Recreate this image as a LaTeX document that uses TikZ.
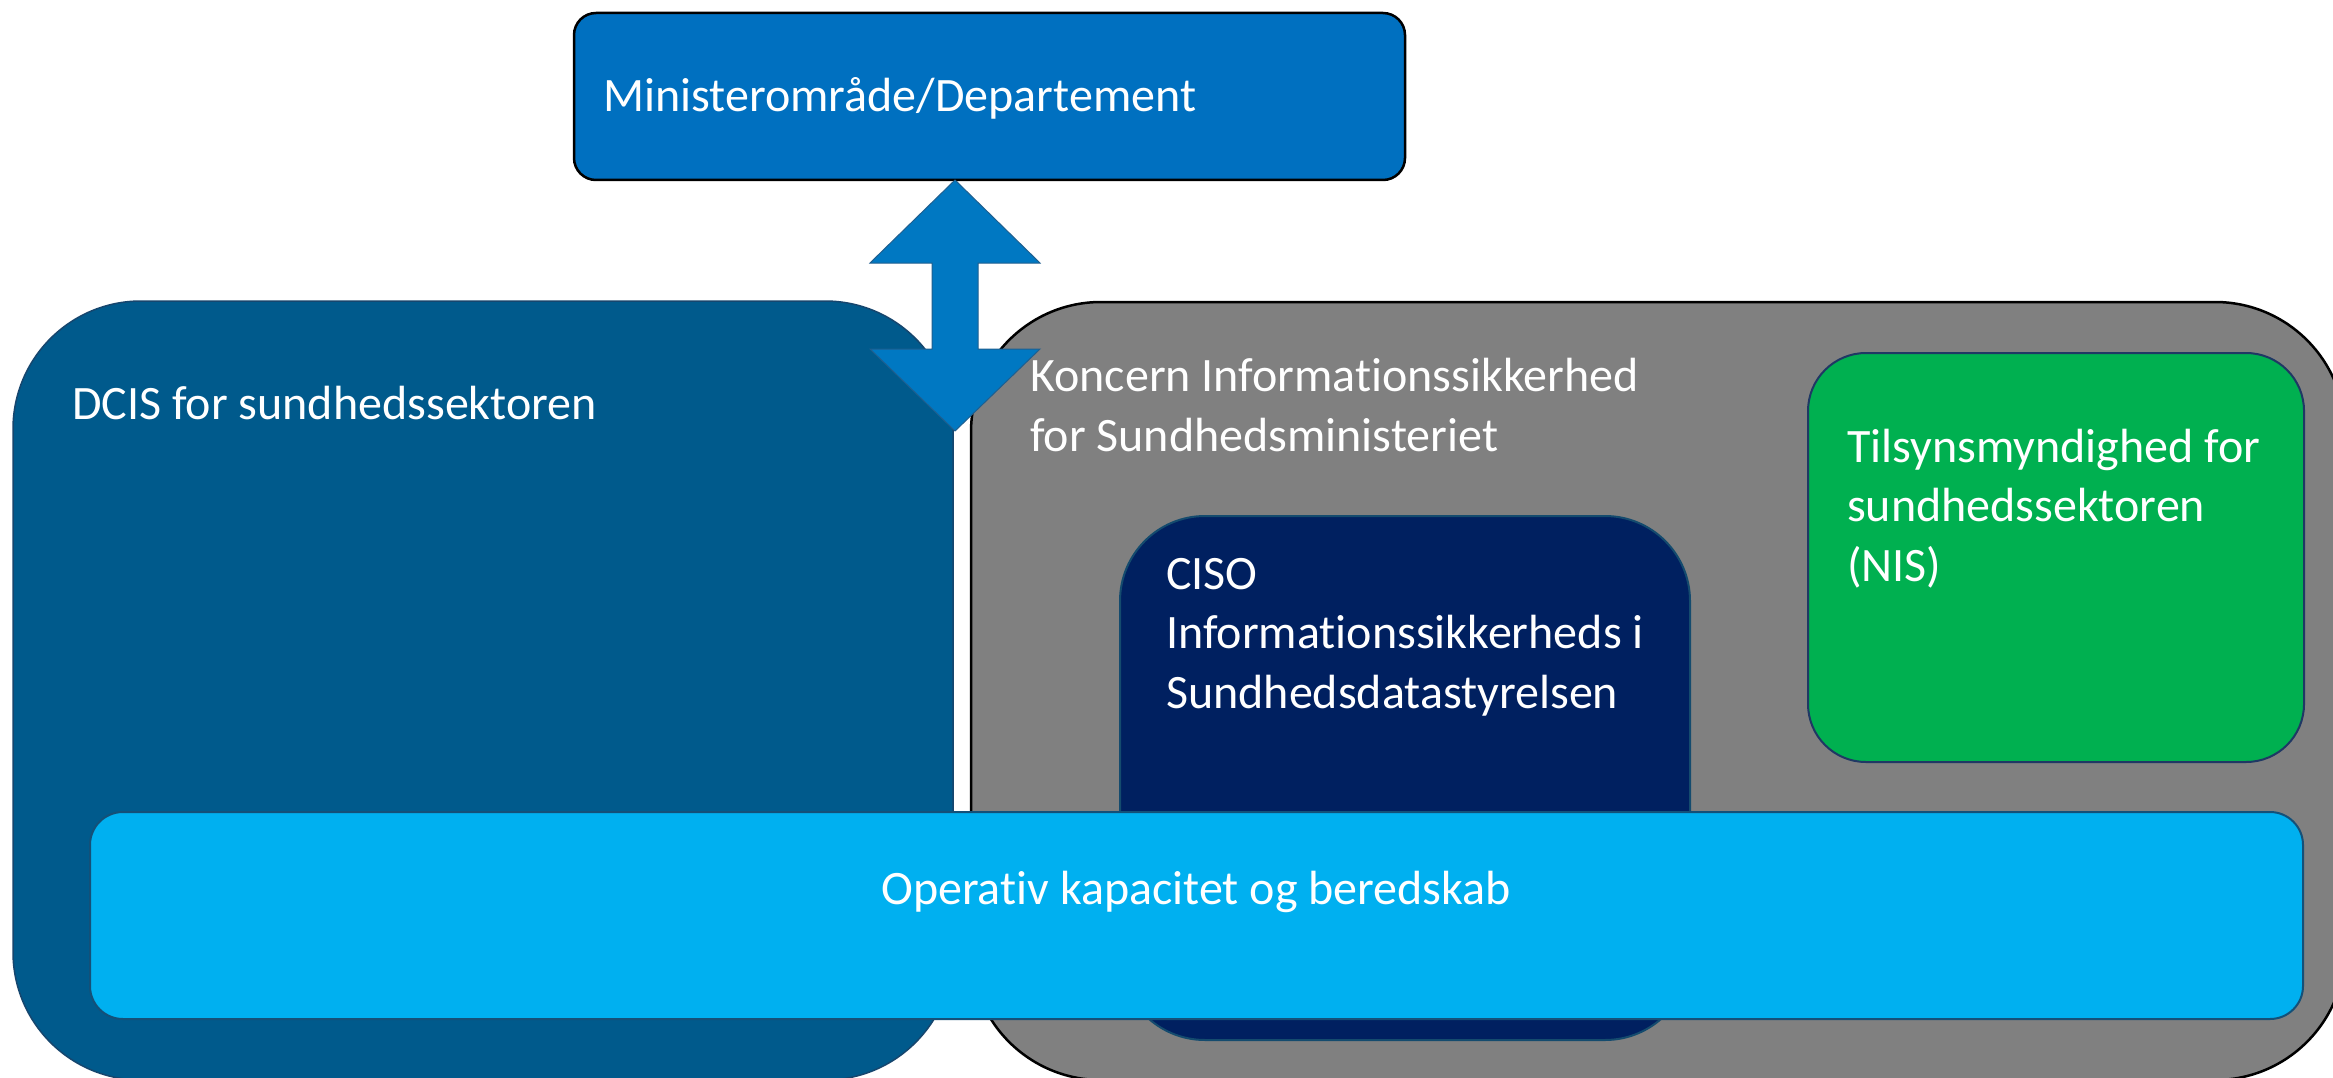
\documentclass[tikz,border=0pt]{standalone}
\usepackage{fontspec}
\setmainfont{Carlito}[Ligatures=NoCommon]
\definecolor{minblue}{RGB}{0,112,192}
\definecolor{arrowblue}{RGB}{0,120,194}
\definecolor{arrowedge}{RGB}{31,95,143}
\definecolor{dcisblue}{RGB}{0,90,140}
\definecolor{dcisedge}{RGB}{22,70,110}
\definecolor{greybox}{RGB}{128,128,128}
\definecolor{navybox}{RGB}{0,32,96}
\definecolor{navyedge}{RGB}{20,75,110}
\definecolor{greenbox}{RGB}{0,176,80}
\definecolor{greenedge}{RGB}{31,56,100}
\definecolor{bandblue}{RGB}{0,176,240}
\definecolor{bandedge}{RGB}{20,80,120}
\tikzset{
  lbl/.style={text=white, inner sep=0pt, align=left, anchor=base west,
    font=\fontsize{48}{59.5}\selectfont},
}
\begin{document}
\begin{tikzpicture}[x=1pt,y=-1pt]
\useasboundingbox (0,0) rectangle (2333,1078);
\clip (0,0) rectangle (2333,1078);
\fill[white] (0,0) rectangle (2333,1078);
% big containers
\draw[fill=dcisblue, draw=dcisedge, line width=1.5pt, rounded corners=128pt]
  (13,301) rectangle (953,1080);
\coordinate (dcis) at (13,301);
\draw[fill=greybox, draw=black, line width=2.5pt, rounded corners=130pt]
  (971,302) rectangle (2345,1080);
\coordinate (grey) at (971,302);
% top box
\draw[fill=minblue, draw=black, line width=2.5pt, rounded corners=22pt]
  (574,13) rectangle (1405,180);
% double arrow
\draw[fill=arrowblue, draw=arrowedge, line width=1pt]
  (955,180) -- (1040,263) -- (978,263) -- (978,349) -- (1040,349) -- (955,431)
  -- (870,349) -- (932,349) -- (932,263) -- (870,263) -- cycle;
% inner boxes
\draw[fill=navybox, draw=navyedge, line width=2pt, rounded corners=85pt]
  (1120,516) rectangle (1690,1040);
\draw[fill=greenbox, draw=greenedge, line width=2pt, rounded corners=58pt]
  (1808,353) rectangle (2304,762);
% band
\draw[fill=bandblue, draw=bandedge, line width=2pt, rounded corners=33pt]
  (90,812) rectangle (2303,1019);
% texts (base anchor = baseline of the last line)
\node[lbl] (tmin) at (603,112) {Ministerområde/Departement};
\node[lbl] (tdcis) at (72,419) {DCIS for sundhedssektoren};
\node[lbl] (tkon) at (1030,451) {Koncern Informationssikkerhed\\for Sundhedsministeriet};
\node[lbl] (tciso) at (1166,708) {CISO\\Informationssikkerheds i\\Sundhedsdatastyrelsen};
\node[lbl] (ttil) at (1847,581) {Tilsynsmyndighed for\\sundhedssektoren\\(NIS)};
\node[text=white, inner sep=0pt, anchor=base, font=\fontsize{48}{59.5}\selectfont] (top) at (1196,904) {Operativ kapacitet og beredskab};
\end{tikzpicture}
\end{document}
